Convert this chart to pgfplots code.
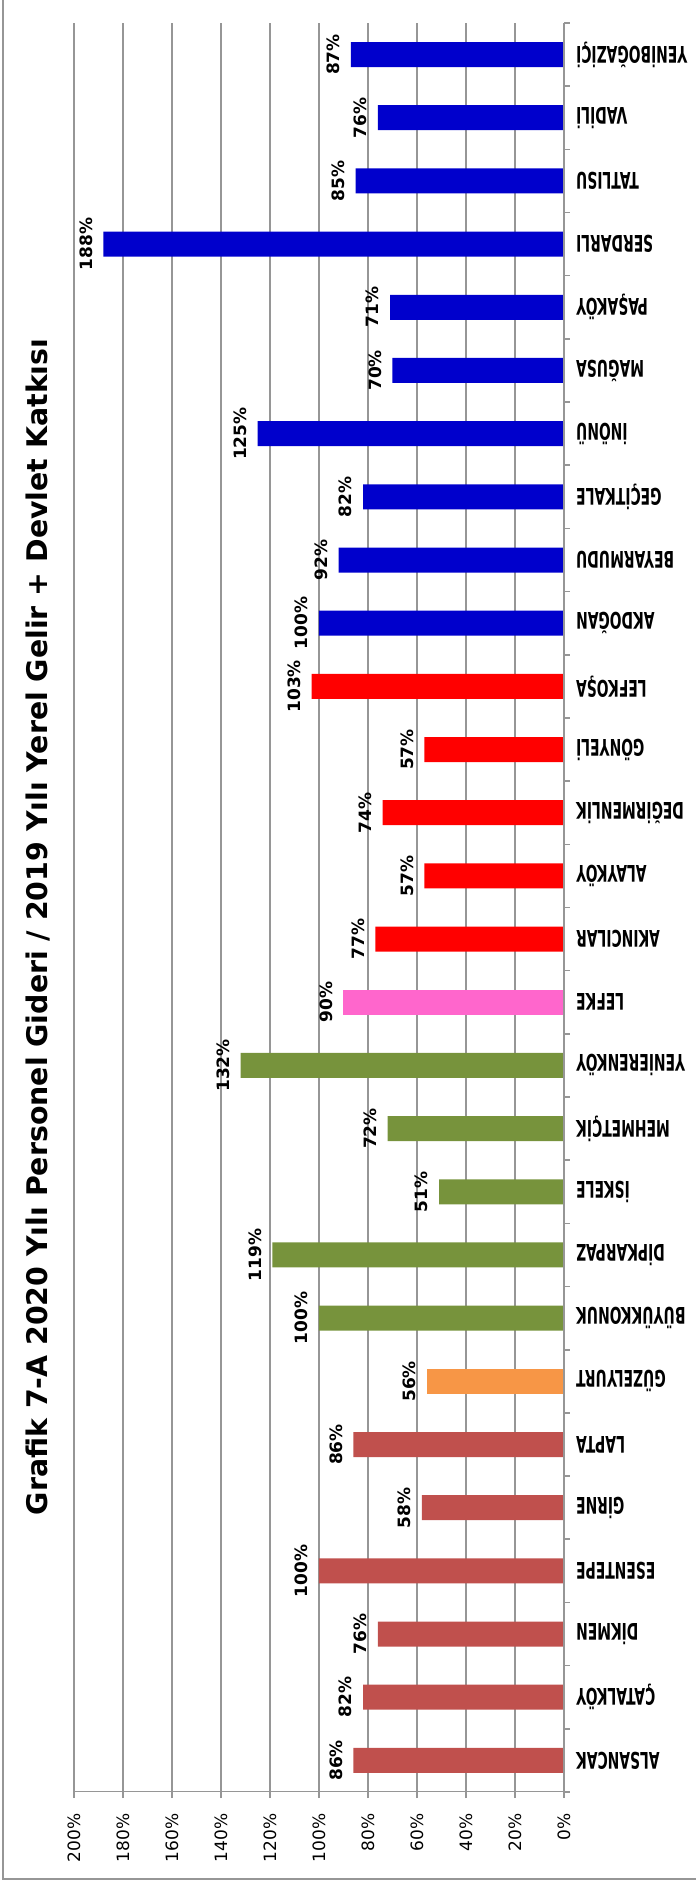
\documentclass[border=0pt]{standalone}
\usepackage{fontspec}
\setmainfont{DejaVu Sans}
\usepackage{pgfplots}
\pgfplotsset{compat=1.18}
\definecolor{kyr}{HTML}{C0504D}
\definecolor{guz}{HTML}{F79646}
\definecolor{isk}{HTML}{77933C}
\definecolor{lef}{HTML}{FF66CC}
\definecolor{lfk}{HTML}{FF0000}
\definecolor{mag}{HTML}{0000CC}
\definecolor{gridc}{HTML}{969696}
\begin{document}
\begin{tikzpicture}
\useasboundingbox (0,0) rectangle (348pt,941.5pt);
\draw[gridc, line width=1pt] (1.5pt,941.5pt) -- (1.5pt,2pt) -- (348pt,2pt);
\node[rotate=90, anchor=base, inner sep=0pt, font=\fontsize{14.2}{17}\selectfont\bfseries] at (23.5pt,478pt) {Grafik 7-A 2020 Yılı Personel Gideri / 2019 Yılı Yerel Gelir + Devlet Katkısı};
\begin{axis}[
  at={(37pt,45.5pt)}, anchor=south west,
  scale only axis, width=245pt, height=884.5pt,
  xbar, bar width=12.5pt, bar shift=0pt,
  x dir=reverse, xmin=0, xmax=200, ymin=-0.5, ymax=27.5,
  xtick={0,20,...,200},
  xticklabel={\pgfmathprintnumber{\tick}\%},
  /pgf/number format/assume math mode=true,
  xticklabel style={rotate=90, anchor=east, inner sep=0pt, font=\fontsize{8.5}{10}\selectfont},
  xticklabel shift=7.5pt,
  ytick={-0.5,0.5,...,27.5},
  y tick label as interval,
  yticklabels={ALSANCAK,ÇATALKÖY,DİKMEN,ESENTEPE,GİRNE,LAPTA,GÜZELYURT,BÜYÜKKONUK,DİPKARPAZ,İSKELE,MEHMETÇİK,YENİERENKÖY,LEFKE,AKINCILAR,ALAYKÖY,DEĞİRMENLİK,GÖNYELİ,LEFKOŞA,AKDOĞAN,BEYARMUDU,GEÇİTKALE,İNÖNÜ,MAĞUSA,PAŞAKÖY,SERDARLI,TATLISU,VADİLİ,YENİBOĞAZİÇİ},
  yticklabel pos=upper, ytick pos=upper, xtick pos=lower, xticklabel pos=lower,
  yticklabel style={rotate=180, xscale=0.605, anchor=east, inner sep=0pt, font=\fontsize{11.45}{13}\selectfont\bfseries},
  yticklabel shift=3pt,
  tick align=outside, major tick length=3pt,
  tick style={gridc, line width=0.8pt},
  axis line style={draw=none},
  xmajorgrids, ymajorgrids=false, major grid style={gridc, line width=0.9pt},
  nodes near coords={\pgfmathprintnumber{\pgfplotspointmeta}\%},
  point meta=x,
  every node near coord/.append style={rotate=90, anchor=south, inner sep=0pt, outer sep=5.5pt, font=\fontsize{8.5}{10}\selectfont\bfseries, black},
]
\addplot[fill=kyr, draw=none] coordinates {(86,0) (82,1) (76,2) (100,3) (58,4) (86,5)};
\addplot[fill=guz, draw=none] coordinates {(56,6)};
\addplot[fill=isk, draw=none] coordinates {(100,7) (119,8) (51,9) (72,10) (132,11)};
\addplot[fill=lef, draw=none] coordinates {(90,12)};
\addplot[fill=lfk, draw=none] coordinates {(77,13) (57,14) (74,15) (57,16) (103,17)};
\addplot[fill=mag, draw=none] coordinates {(100,18) (92,19) (82,20) (125,21) (70,22) (71,23) (188,24) (85,25) (76,26) (87,27)};
\draw[gridc, line width=1pt] (axis cs:0,-0.5) -- (axis cs:0,27.5);
\draw[gridc, line width=1pt] (axis cs:200,-0.5) -- (axis cs:0,-0.5);
\end{axis}
\end{tikzpicture}
\end{document}
